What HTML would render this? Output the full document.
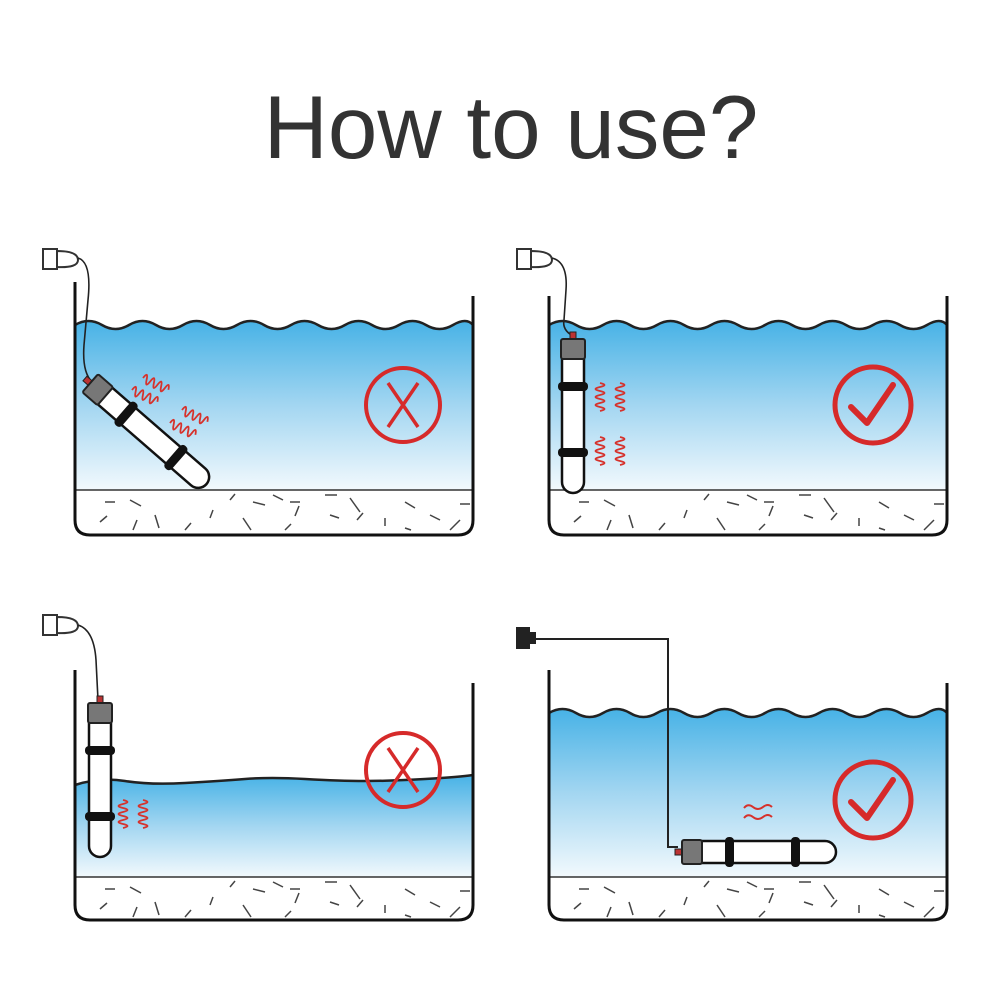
<!DOCTYPE html>
<html><head><meta charset="utf-8"><style>
html,body{margin:0;padding:0;background:#fff;}
svg{display:block}
</style></head><body>
<svg width="1000" height="1000" viewBox="0 0 1000 1000" xmlns="http://www.w3.org/2000/svg">
<defs>
<linearGradient id="wg" x1="0" y1="0" x2="0" y2="1">
<stop offset="0" stop-color="#47b2e6"/><stop offset="0.5" stop-color="#a3d6f1"/><stop offset="1" stop-color="#f2f9fd"/>
</linearGradient>
<g id="grav" stroke="#444" stroke-width="1.5" fill="none">
<line x1="30" y1="12" x2="40" y2="12"/><line x1="55" y1="10" x2="66" y2="16"/><line x1="25" y1="32" x2="32" y2="26"/>
<line x1="80" y1="25" x2="84" y2="38"/><line x1="110" y1="40" x2="116" y2="33"/><line x1="135" y1="28" x2="138" y2="20"/>
<line x1="155" y1="10" x2="160" y2="4"/><line x1="178" y1="12" x2="190" y2="15"/><line x1="168" y1="28" x2="176" y2="40"/>
<line x1="215" y1="12" x2="225" y2="12"/><line x1="220" y1="26" x2="224" y2="16"/><line x1="210" y1="40" x2="216" y2="34"/>
<line x1="275" y1="8" x2="285" y2="22"/><line x1="255" y1="25" x2="264" y2="28"/><line x1="282" y1="30" x2="288" y2="23"/>
<line x1="310" y1="36" x2="310" y2="28"/><line x1="330" y1="12" x2="340" y2="18"/><line x1="355" y1="25" x2="365" y2="30"/>
<line x1="375" y1="40" x2="385" y2="30"/><line x1="385" y1="14" x2="395" y2="14"/><line x1="250" y1="5" x2="262" y2="5"/>
<line x1="58" y1="40" x2="62" y2="30"/><line x1="198" y1="5" x2="208" y2="10"/><line x1="330" y1="38" x2="336" y2="40"/>
</g>
<path id="sq" d="M0,0 q2,-9 4,0 t4,0 t4,0 t4,0 t4,0 t4,0 t4,0" stroke="#d6322c" stroke-width="1.8" fill="none"/>
<g id="heat">
<rect x="-16" y="-3" width="8" height="6" fill="#b33" stroke="#222" stroke-width="1"/>
<rect x="0" y="-11" width="145" height="22" rx="11" fill="#fff" stroke="#111" stroke-width="2.5"/>
<rect x="-9" y="-12" width="20" height="24" rx="2" fill="#777" stroke="#222" stroke-width="2"/>
<rect x="34" y="-15" width="9" height="30" rx="4" fill="#111"/>
<rect x="100" y="-15" width="9" height="30" rx="4" fill="#111"/>
</g>
<g id="xc"><circle r="37" fill="none" stroke="#d62a2a" stroke-width="4"/><line x1="-15" y1="-22" x2="15" y2="22" stroke="#d62a2a" stroke-width="3.5"/><line x1="15" y1="-22" x2="-15" y2="22" stroke="#d62a2a" stroke-width="3.5"/></g>
<g id="ck"><circle r="38" fill="none" stroke="#d62a2a" stroke-width="5"/><path d="M-22,2 L-6,18 L20,-20" fill="none" stroke="#d62a2a" stroke-width="6" stroke-linecap="round" stroke-linejoin="round"/></g>
</defs>

<text x="511" y="158" text-anchor="middle" font-family="Liberation Sans, sans-serif" font-size="89" fill="#333">How to use?</text>

<!-- Panel 1 -->
<g transform="translate(75,0)">
<path d="M0,325 q13.5,-8 27,0 t27,0 t27,0 t27,0 t27,0 t27,0 t27,0 t27,0 t27,0 t27,0 t27,0 t27,0 t27,0 t27,0 t20,0 V490 H0 Z" fill="url(#wg)"/>
<path d="M0,325 q13.5,-8 27,0 t27,0 t27,0 t27,0 t27,0 t27,0 t27,0 t27,0 t27,0 t27,0 t27,0 t27,0 t27,0 t27,0 t20,0" fill="none" stroke="#222" stroke-width="2.5"/>
<line x1="0" y1="490" x2="398" y2="490" stroke="#333" stroke-width="1.5"/>
<use href="#grav" transform="translate(0,490)"/>
<path d="M0,282 V520 Q0,535 15,535 H383 Q398,535 398,520 V296" fill="none" stroke="#111" stroke-width="3"/>
</g>
<rect x="43" y="249" width="14" height="20" fill="#fff" stroke="#333" stroke-width="2"/>
<path d="M57,251 Q78,251 78,260 Q78,268 57,267Z" fill="#fff" stroke="#333" stroke-width="2"/>
<path d="M78,258 Q92,262 88,300 L84,345 Q82,372 92,382" fill="none" stroke="#222" stroke-width="1.6"/>
<use href="#heat" transform="translate(97,389) rotate(41)"/>
<use href="#sq" transform="translate(143,378) rotate(25)"/><use href="#sq" transform="translate(132,390) rotate(25)"/>
<use href="#sq" transform="translate(182,410) rotate(25)"/><use href="#sq" transform="translate(170,423) rotate(25)"/>
<use href="#xc" transform="translate(403,405)"/>

<!-- Panel 2 -->
<g transform="translate(549,0)">
<path d="M0,325 q13.5,-8 27,0 t27,0 t27,0 t27,0 t27,0 t27,0 t27,0 t27,0 t27,0 t27,0 t27,0 t27,0 t27,0 t27,0 t20,0 V490 H0 Z" fill="url(#wg)"/>
<path d="M0,325 q13.5,-8 27,0 t27,0 t27,0 t27,0 t27,0 t27,0 t27,0 t27,0 t27,0 t27,0 t27,0 t27,0 t27,0 t27,0 t20,0" fill="none" stroke="#222" stroke-width="2.5"/>
<line x1="0" y1="490" x2="398" y2="490" stroke="#333" stroke-width="1.5"/>
<use href="#grav" transform="translate(0,490)"/>
<path d="M0,296 V520 Q0,535 15,535 H383 Q398,535 398,520 V296" fill="none" stroke="#111" stroke-width="3"/>
</g>
<rect x="517" y="249" width="14" height="20" fill="#fff" stroke="#333" stroke-width="2"/>
<path d="M531,251 Q552,251 552,260 Q552,268 531,267Z" fill="#fff" stroke="#333" stroke-width="2"/>
<path d="M552,258 Q568,262 566,290 L564,320 Q562,330 573,336" fill="none" stroke="#222" stroke-width="1.6"/>
<use href="#heat" transform="translate(573,348) rotate(90)"/>
<use href="#sq" transform="translate(600,383) rotate(90)"/><use href="#sq" transform="translate(620,383) rotate(90)"/>
<use href="#sq" transform="translate(600,437) rotate(90)"/><use href="#sq" transform="translate(620,437) rotate(90)"/>
<use href="#ck" transform="translate(873,405)"/>

<!-- Panel 3 -->
<g transform="translate(75,0)">
<path d="M0,785 q25,-8 50,-4 t60,2 t60,-4 t60,0 t60,2 t60,-2 t48,-4 V877 H0 Z" fill="url(#wg)"/>
<path d="M0,785 q25,-8 50,-4 t60,2 t60,-4 t60,0 t60,2 t60,-2 t48,-4" fill="none" stroke="#222" stroke-width="2.5"/>
<line x1="0" y1="877" x2="398" y2="877" stroke="#333" stroke-width="1.5"/>
<use href="#grav" transform="translate(0,877)"/>
<path d="M0,670 V905 Q0,920 15,920 H383 Q398,920 398,905 V683" fill="none" stroke="#111" stroke-width="3"/>
</g>
<rect x="43" y="615" width="14" height="20" fill="#fff" stroke="#333" stroke-width="2"/>
<path d="M57,617 Q78,617 78,626 Q78,634 57,633Z" fill="#fff" stroke="#333" stroke-width="2"/>
<path d="M78,625 Q94,630 96,660 L98,700" fill="none" stroke="#222" stroke-width="1.6"/>
<use href="#heat" transform="translate(100,712) rotate(90)"/>
<use href="#sq" transform="translate(123,800) rotate(90)"/><use href="#sq" transform="translate(143,800) rotate(90)"/>
<use href="#xc" transform="translate(403,770)"/>

<!-- Panel 4 -->
<g transform="translate(549,0)">
<path d="M0,713 q13.5,-8 27,0 t27,0 t27,0 t27,0 t27,0 t27,0 t27,0 t27,0 t27,0 t27,0 t27,0 t27,0 t27,0 t27,0 t20,0 V877 H0 Z" fill="url(#wg)"/>
<path d="M0,713 q13.5,-8 27,0 t27,0 t27,0 t27,0 t27,0 t27,0 t27,0 t27,0 t27,0 t27,0 t27,0 t27,0 t27,0 t27,0 t20,0" fill="none" stroke="#222" stroke-width="2.5"/>
<line x1="0" y1="877" x2="398" y2="877" stroke="#333" stroke-width="1.5"/>
<use href="#grav" transform="translate(0,877)"/>
<path d="M0,670 V905 Q0,920 15,920 H383 Q398,920 398,905 V683" fill="none" stroke="#111" stroke-width="3"/>
</g>
<rect x="516" y="627" width="14" height="22" fill="#222"/>
<rect x="528" y="632" width="8" height="12" fill="#222"/>
<path d="M536,639 H668 V847 H678" fill="none" stroke="#222" stroke-width="2"/>
<use href="#heat" transform="translate(691,852)"/>
<path d="M744,808 q4,-5 9,-1 t10,0 t9,0 M744,818 q4,-5 9,-1 t10,0 t9,0" fill="none" stroke="#d6322c" stroke-width="2"/>
<use href="#ck" transform="translate(873,800)"/>
</svg>
</body></html>
